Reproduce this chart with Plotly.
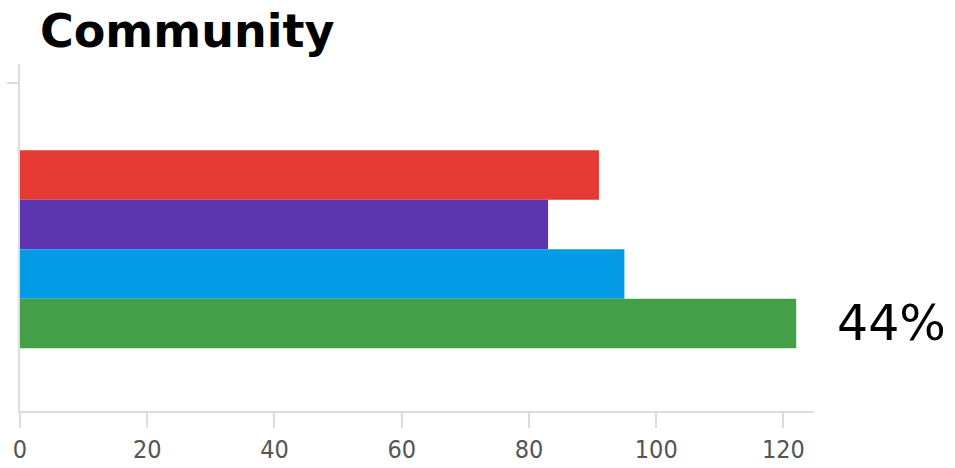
import plotly.graph_objects as go

title_text = "Community"
categories = ["Red", "Purple", "Blue", "Green"]
values = [91, 83, 95, 122]
colors = ["#e53935", "#5e35b1", "#039be5", "#43a047"]
positions = [3, 2, 1, 0]
x_ticks = [0, 20, 40, 60, 80, 100, 120]
side_label = "44%"

fig = go.Figure()
fig.add_trace(go.Bar(
    x=values, y=positions, orientation="h", width=1,
    marker=dict(color=colors, line=dict(width=0)),
    text=categories, textposition="none", hoverinfo="x+text",
))

fig.update_layout(
    width=955, height=468,
    margin=dict(l=20, r=141, t=64, b=57),
    paper_bgcolor="white", plot_bgcolor="white",
    showlegend=False,
    font=dict(family="DejaVu Sans", color="#000"),
    xaxis=dict(
        range=[0, 124.8], tickvals=x_ticks, ticktext=[str(t) for t in x_ticks],
        showgrid=False, zeroline=False, automargin=False,
        showline=True, linecolor="#dcdcdc", linewidth=2,
        ticks="outside", ticklen=15, tickwidth=2, tickcolor="#dcdcdc",
        tickfont=dict(family="Liberation Sans Narrow, DejaVu Sans Condensed, Roboto Condensed, Liberation Sans",
                      size=25, color="#555"),
    ),
    yaxis=dict(
        range=[-1.77, 5.24], tickvals=[4.86], showticklabels=False,
        showgrid=False, zeroline=False, automargin=False,
        showline=True, linecolor="#dcdcdc", linewidth=2,
        ticks="outside", ticklen=11, tickwidth=2, tickcolor="#dcdcdc",
    ),
    annotations=[
        dict(text="<b>" + title_text + "</b>", xref="paper", yref="paper",
             x=18 / 794, y=1.0, xanchor="left", yanchor="bottom", yshift=4,
             showarrow=False, font=dict(family="DejaVu Sans", size=46, color="#000")),
        dict(text=side_label, xref="paper", yref="y", x=1.027, y=positions[-1],
             xanchor="left", yanchor="middle", showarrow=False,
             font=dict(family="DejaVu Sans", size=49, color="#000")),
    ],
)

fig.write_html("out.html")
